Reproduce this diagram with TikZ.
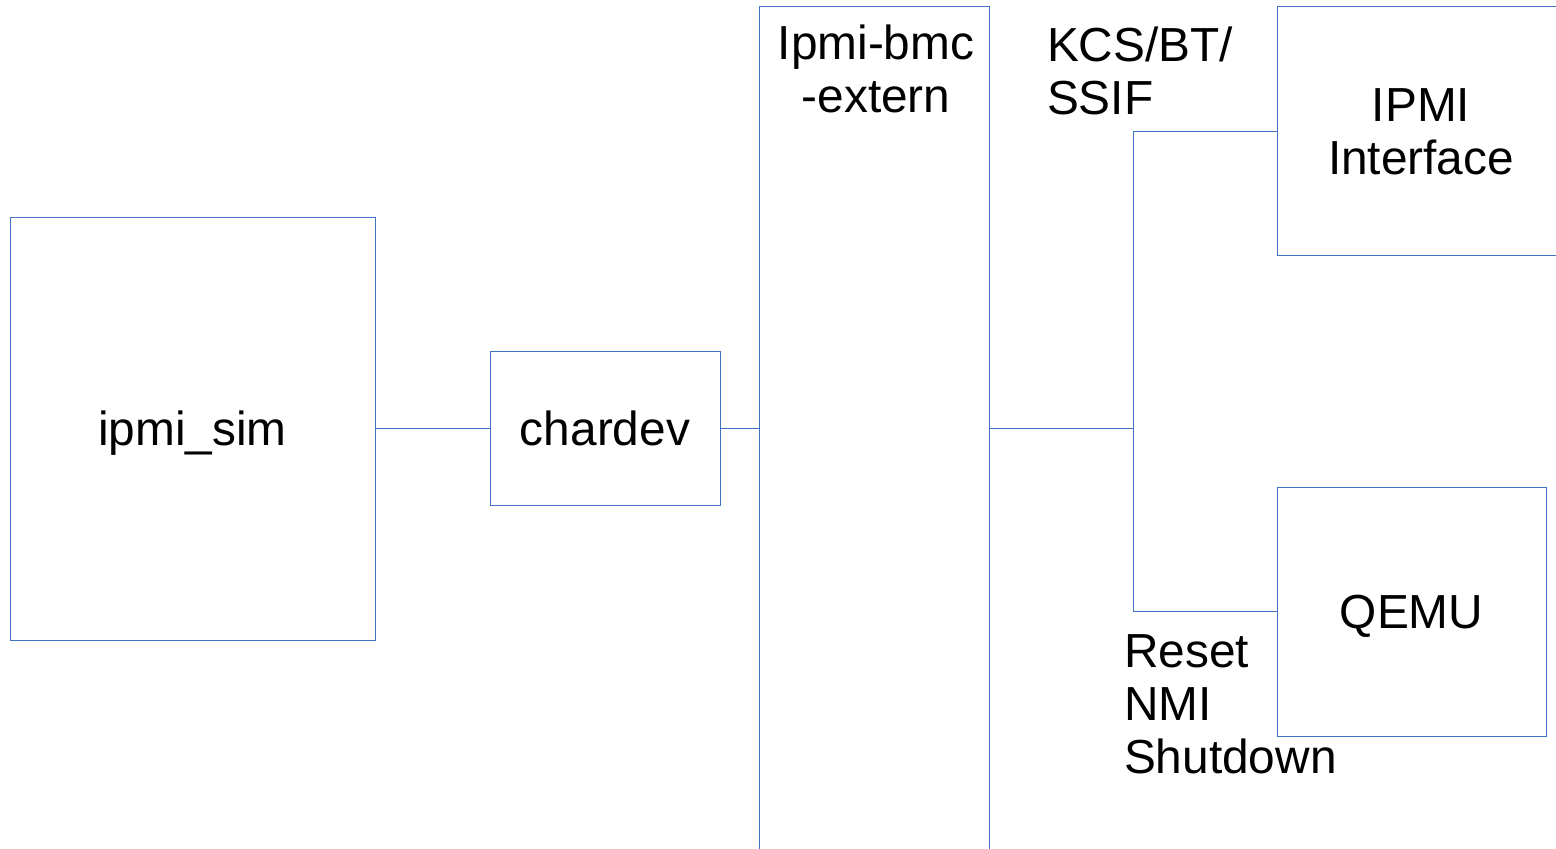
\documentclass[tikz,border=0pt]{standalone}
\usepackage{fontspec}
\setmainfont{Liberation Sans}
\definecolor{boxblue}{HTML}{4472C4}
\begin{document}
\begin{tikzpicture}[x=0.5pt,y=-0.5pt,
  box/.style={draw=boxblue,line width=0.5pt,inner sep=0pt,outer sep=0pt,rectangle},
  conn/.style={draw=boxblue,line width=0.5pt},
  lbl/.style={inner sep=0pt,outer sep=0pt,font=\fontsize{23.9}{26.5}\selectfont,text=black}]
\useasboundingbox (0,0) rectangle (1556,849);
\clip (0,0) rectangle (1556,849);
\fill[white] (0,0) rectangle (1556,849);
% boxes
\node[box,minimum width=182.5pt,minimum height=211pt] (sim) at (192.5,429) {};
\node[box,minimum width=115pt,minimum height=76.5pt] (chardev) at (605,428.5) {};
\node[box,minimum width=115pt,minimum height=436.5pt] (bmc) at (874,443.5) {};
\node[box,minimum width=144pt,minimum height=124.5pt] (ipmiif) at (1421,131.5) {};
\node[box,minimum width=134.5pt,minimum height=124.5pt] (qemu) at (1411.5,611.5) {};
% labels
\node[lbl,anchor=base] (tsim) at (192.5,445) {ipmi\_sim};
\node[lbl,anchor=base] (tchar) at (605,445) {chardev};
\node[lbl,anchor=base] (tbmc1) at (876,60) {Ipmi-bmc};
\node[lbl,anchor=base] (tbmc2) at (876,113) {-extern};
\node[lbl,anchor=base west] (tkcs1) at (1047,62) {KCS/BT/};
\node[lbl,anchor=base west] (tkcs2) at (1047,115) {SSIF};
\node[lbl,anchor=base] (tif1) at (1421,122) {IPMI};
\node[lbl,anchor=base] (tif2) at (1421,175) {Interface};
\node[lbl,anchor=base] (tqemu) at (1411.5,628) {QEMU};
\node[lbl,anchor=base west] (tr1) at (1124,667) {Reset};
\node[lbl,anchor=base west] (tr2) at (1124,720) {NMI};
\node[lbl,anchor=base west] (tr3) at (1124,773) {Shutdown};
% connectors
\coordinate (br) at (1133,429);
\draw[conn] (sim.east |- chardev.west) -- (chardev.west);
\draw[conn] (chardev.east) -- (chardev.east -| bmc.west);
\draw[conn] (bmc.east |- br) -- (br);
\draw[conn] (ipmiif.west) -| (br) |- (qemu.west);
\end{tikzpicture}
\end{document}
